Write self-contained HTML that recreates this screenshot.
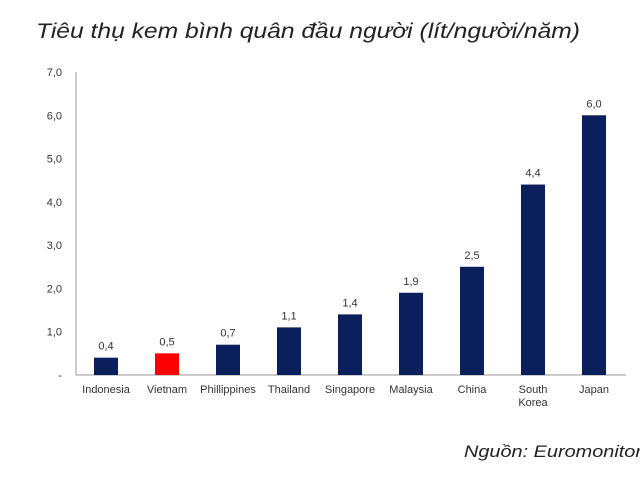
<!DOCTYPE html>
<html><head><meta charset="utf-8"><style>
body{margin:0;background:#fff;width:640px;height:482px;overflow:hidden;font-family:"Liberation Sans",Arial,sans-serif}
</style></head><body>
<svg width="640" height="482">
<text x="36" y="38" font-size="21" font-style="italic" fill="#222" textLength="544" lengthAdjust="spacingAndGlyphs">Tiêu thụ kem bình quân đầu người (lít/người/năm)</text>
<text x="464" y="457" font-size="17" font-style="italic" fill="#222" textLength="178" lengthAdjust="spacingAndGlyphs">Nguồn: Euromonitor</text>
<g id="plot"></g>
</svg>
<script>
const categories=["Indonesia","Vietnam","Phillippines","Thailand","Singapore","Malaysia","China","South|Korea","Japan"];
const values=[0.4,0.5,0.7,1.1,1.4,1.9,2.5,4.4,6.0];
const valueLabels=["0,4","0,5","0,7","1,1","1,4","1,9","2,5","4,4","6,0"];
const yTicks=[0,1,2,3,4,5,6,7];
const yTickLabels=["-","1,0","2,0","3,0","4,0","5,0","6,0","7,0"];
const ns="http://www.w3.org/2000/svg";
const g=document.getElementById("plot");
const x0=76,x1=626,y0=375,yTop=72,ymax=7;
const y=v=>y0-(v/ymax)*(y0-yTop);
const step=61,first=106,bw=24;
const xc=i=>first+i*step;
function el(t,a,txt){const e=document.createElementNS(ns,t);for(const k in a)e.setAttribute(k,a[k]);if(txt!=null)e.textContent=txt;g.appendChild(e);return e;}
let ax=el("line",{x1:x0,y1:yTop,x2:x0,y2:y0,stroke:"#999","stroke-width":1});


let bx=el("line",{x1:x0,y1:y0,x2:x1,y2:y0,stroke:"#999","stroke-width":1});


yTicks.forEach((t,i)=>{
 const e=el("text",{x:62,y:y(t)+4,"font-size":11,fill:"#333","text-anchor":"end"},yTickLabels[i]);
 
 
});
categories.forEach((c,i)=>{
 const v=values[i];
 const r=el("rect",{x:xc(i)-bw/2,y:y(v),width:bw,height:y0-y(v),fill:c==="Vietnam"?"#ff0000":"#0a1f5c"});
 
 
 const vl=el("text",{x:xc(i),y:y(v)-8,"font-size":11,fill:"#333","text-anchor":"middle"},valueLabels[i]);
 
 
 c.split("|").forEach((p,j)=>{
  const t=el("text",{x:xc(i),y:393+j*13,"font-size":11,fill:"#333","text-anchor":"middle"},p);
  
  
 });
});
</script>
</body></html>
